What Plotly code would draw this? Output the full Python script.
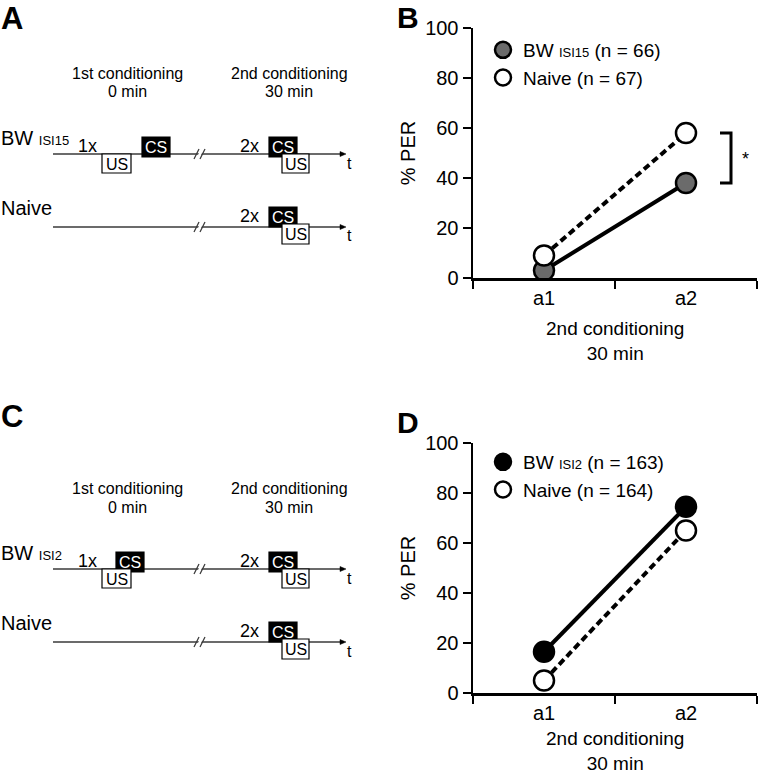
import plotly.graph_objects as go

W, H = 758, 775
FONT = "Liberation Sans, Arial, sans-serif"

# ---------------- data ----------------
categories = ["a1", "a2"]
y_ticks = [0, 20, 40, 60, 80, 100]

# Panel B
bw_isi15 = [3, 38]
naive_b = [9, 58]
n_bw_isi15, n_naive_b = 66, 67

# Panel D
bw_isi2 = [16.5, 74.5]
naive_d = [5, 65]
n_bw_isi2, n_naive_d = 163, 164

x_title_lines = ["2nd conditioning", "30 min"]
panel_letters = ["A", "B", "C", "D"]


def px(x):
    return x / W


def py(y):
    return 1 - y / H


fig = go.Figure()

# ---------------- charts ----------------
def add_chart(xa, ya, leg, bw_vals, naive_vals, bw_color, bw_sub, n_bw, n_naive):
    fig.add_trace(go.Scatter(x=categories, y=naive_vals, mode="lines", xaxis=xa, yaxis=ya,
                             line=dict(color="black", width=4, dash="7px,4px"), showlegend=False,
                             hoverinfo="skip"))
    fig.add_trace(go.Scatter(x=categories, y=bw_vals, mode="lines", xaxis=xa, yaxis=ya,
                             line=dict(color="black", width=4), showlegend=False, hoverinfo="skip"))
    fig.add_trace(go.Scatter(x=categories, y=bw_vals, mode="markers", xaxis=xa, yaxis=ya,
                             legend=leg, legendgroup=leg + "bw",
                             name=f"BW <span style='font-size:13px'>{bw_sub}</span> (n = {n_bw})",
                             marker=dict(size=20, color=bw_color, line=dict(color="black", width=2.5))))
    fig.add_trace(go.Scatter(x=categories, y=naive_vals, mode="markers", xaxis=xa, yaxis=ya,
                             legend=leg, legendgroup=leg + "nv", name=f"Naive (n = {n_naive})",
                             marker=dict(size=20, color="white", line=dict(color="black", width=2.5))))


add_chart("x", "y", "legend", bw_isi15, naive_b, "#6b6b6b", "ISI15", n_bw_isi15, n_naive_b)
add_chart("x2", "y2", "legend2", bw_isi2, naive_d, "black", "ISI2", n_bw_isi2, n_naive_d)

axis_common_x = dict(type="category", tickson="boundaries", ticks="outside", ticklen=8, tickwidth=2,
                     tickcolor="black", showline=True, linewidth=2.5, linecolor="black",
                     showgrid=False, zeroline=False, range=[-0.5, 1.5], automargin=False,
                     tickfont=dict(family=FONT, size=20, color="black"))
axis_common_y = dict(range=[0, 100], tickvals=y_ticks, ticks="outside", ticklen=8, tickwidth=2,
                     tickcolor="black", showline=True, linewidth=2.5, linecolor="black",
                     showgrid=False, zeroline=False, automargin=False,
                     tickfont=dict(family=FONT, size=20, color="black"),
                     title=dict(text="% PER", font=dict(family=FONT, size=20, color="black"), standoff=4))

chart_x = [px(473), px(757)]
B_top, B_bot = 28, 278
D_top, D_bot = 443, 693

legend_common = dict(xanchor="left", yanchor="top", bgcolor="rgba(0,0,0,0)", traceorder="grouped",
                     tracegroupgap=0, font=dict(family=FONT, size=19, color="black"), itemclick=False)

fig.update_layout(
    width=W, height=H, margin=dict(l=0, r=0, t=0, b=0, autoexpand=False),
    paper_bgcolor="white", plot_bgcolor="white",
    font=dict(family=FONT, color="black"),
    xaxis=dict(domain=chart_x, anchor="y", **axis_common_x),
    yaxis=dict(domain=[py(B_bot), py(B_top)], anchor="x", **axis_common_y),
    xaxis2=dict(domain=chart_x, anchor="y2", **axis_common_x),
    yaxis2=dict(domain=[py(D_bot), py(D_top)], anchor="x2", **axis_common_y),
    legend=dict(x=px(483), y=py(31), **legend_common),
    legend2=dict(x=px(483), y=py(443), **legend_common),
    showlegend=True,
)

annotations = []
shapes = []

# x-axis titles (two lines in one text block)
x_title = "<br>".join(x_title_lines)
annotations.append(dict(x=px(615), y=py(B_bot + 63), xref="paper", yref="paper", text=x_title,
                        showarrow=False, xanchor="center", yanchor="middle",
                        font=dict(family=FONT, size=19)))
annotations.append(dict(x=px(615), y=0, xref="paper", yref="paper", text=x_title,
                        showarrow=False, xanchor="center", yanchor="bottom", borderpad=0,
                        font=dict(family=FONT, size=19)))

# significance bracket in B
y_hi, y_lo = naive_b[1], bw_isi15[1]
shapes.append(dict(type="path", xref="paper", yref="y",
                   path=f"M {px(720)},{y_hi} L {px(731)},{y_hi} L {px(731)},{y_lo} L {px(720)},{y_lo}",
                   line=dict(color="black", width=3)))
star_py = B_bot - (y_hi + y_lo) / 2 * (B_bot - B_top) / 100
annotations.append(dict(x=px(745), y=py(star_py + 1), xref="paper", yref="paper", text="*",
                        showarrow=False, xanchor="center", yanchor="middle",
                        font=dict(family=FONT, size=18, color="black")))

# panel letters
annotations.append(dict(x=0, y=1, xref="paper", yref="paper", text="<b>A</b>", showarrow=False,
                        xanchor="left", yanchor="top", borderpad=0, font=dict(family=FONT, size=31)))
annotations.append(dict(x=px(396), y=1, xref="paper", yref="paper", text="<b>B</b>", showarrow=False,
                        xanchor="left", yanchor="top", borderpad=0, font=dict(family=FONT, size=30)))
annotations.append(dict(x=0, y=py(416), xref="paper", yref="paper", text="<b>C</b>", showarrow=False,
                        xanchor="left", yanchor="middle", borderpad=0, font=dict(family=FONT, size=31)))
annotations.append(dict(x=px(396), y=py(422), xref="paper", yref="paper", text="<b>D</b>", showarrow=False,
                        xanchor="left", yanchor="middle", borderpad=0, font=dict(family=FONT, size=30)))

# ---------------- schematics ----------------
LINE_C = "#3a3a3a"


def txt(x, y, s, size=16, anchor="center", color="black", pad=1):
    annotations.append(dict(x=px(x), y=py(y), xref="paper", yref="paper", text=s, showarrow=False,
                            xanchor=anchor, yanchor="middle", borderpad=pad,
                            font=dict(family=FONT, size=size, color=color)))


def rect(x0, y0, x1, y1, fill, lw=1.2):
    shapes.append(dict(type="rect", xref="paper", yref="paper", x0=px(x0), x1=px(x1), y0=py(y1), y1=py(y0),
                       fillcolor=fill, line=dict(color="black", width=lw)))


def timeline(y):
    shapes.append(dict(type="line", xref="paper", yref="paper", x0=px(53), x1=px(343), y0=py(y), y1=py(y),
                       line=dict(color=LINE_C, width=1.5)))
    shapes.append(dict(type="path", xref="paper", yref="paper",
                       path=f"M {px(340)},{py(y - 2.5)} L {px(346)},{py(y)} L {px(340)},{py(y + 2.5)} Z",
                       fillcolor="black", line=dict(color="black", width=0.5)))
    # break mark //
    shapes.append(dict(type="path", xref="paper", yref="paper",
                       path=f"M {px(196.5)},{py(y + 4)} L {px(200.5)},{py(y - 4)} L {px(203.5)},{py(y - 4)} "
                            f"L {px(199.5)},{py(y + 4)} Z",
                       fillcolor="white", line=dict(width=0)))
    for dx in (0, 6):
        shapes.append(dict(type="line", xref="paper", yref="paper",
                           x0=px(194 + dx), x1=px(199 + dx), y0=py(y + 5), y1=py(y - 5),
                           line=dict(color=LINE_C, width=1.3)))
    txt(349, y + 9, "t", size=16)


def schematic(oy, sub, first_cs_x, first_cs_y):
    txt(127, oy + 73, "1st conditioning", 16)
    txt(127, oy + 92, "0 min", 16)
    txt(289, oy + 73, "2nd conditioning", 16)
    txt(289, oy + 92, "30 min", 16)
    # row 1: BW
    txt(0, oy + 138, f"BW <span style='font-size:13px'>{sub}</span>", 20, anchor="left", pad=0)
    timeline(oy + 154)
    txt(87, oy + 146, "1x", 18)
    rect(first_cs_x, oy + first_cs_y, first_cs_x + 28, oy + first_cs_y + 20, "black")
    rect(102, oy + 154, 131, oy + 173, "white")
    txt(first_cs_x + 14, oy + first_cs_y + 10, "CS", 16, color="white")
    txt(116.5, oy + 164, "US", 16)
    txt(249, oy + 146, "2x", 18)
    rect(269, oy + 137, 297, oy + 157, "black")
    rect(282, oy + 154, 309, oy + 173, "white")
    txt(283, oy + 147, "CS", 16, color="white")
    txt(295.5, oy + 164, "US", 16)
    # row 2: Naive
    txt(0, oy + 208, "Naive", 20, anchor="left", pad=0)
    timeline(oy + 227)
    txt(249, oy + 216, "2x", 18)
    rect(269, oy + 207, 297, oy + 227, "black")
    rect(282, oy + 224, 309, oy + 244, "white")
    txt(283, oy + 217, "CS", 16, color="white")
    txt(295.5, oy + 234, "US", 16)


schematic(0, "ISI15", 142, 137)
schematic(415, "ISI2", 116, 137)

fig.update_layout(annotations=annotations, shapes=shapes)
fig.write_html(
    "out.html",
    config={"displayModeBar": False, "staticPlot": True},
    post_script=(
        "document.documentElement.style.margin='0';document.documentElement.style.overflow='hidden';"
        "document.body.style.margin='0';document.body.style.overflow='hidden';"
    ),
)
